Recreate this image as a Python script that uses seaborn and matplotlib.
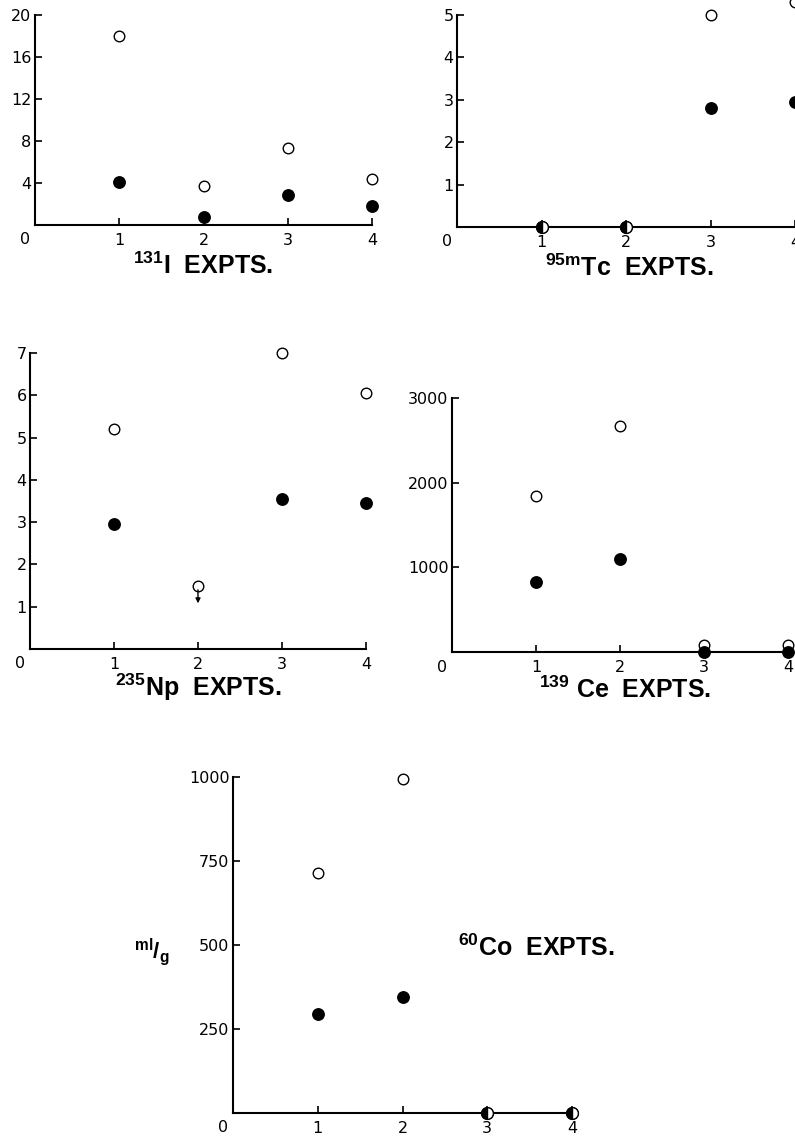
import numpy as np
import pandas as pd
import matplotlib
matplotlib.use("Agg")
import matplotlib.pyplot as plt
import seaborn as sns

# Experiment numbers shared by every panel
expts = [1, 2, 3, 4]

# Distribution ratios: open circles and filled circles for each nuclide
i131_open = [18.0, 3.7, 7.3, 4.4]
i131_filled = [4.1, 0.8, 2.9, 1.8]

tc95m_open = [0.0, 0.0, 5.0, 5.3]
tc95m_filled = [0.0, 0.0, 2.8, 2.95]

np235_open = [5.2, 1.5, 7.0, 6.05]
np235_filled = [2.95, np.nan, 3.55, 3.45]

ce139_open = [1840, 2670, 80, 80]
ce139_filled = [825, 1095, 0, 0]

co60_open = [715, 995, 0, 0]
co60_filled = [295, 345, 0, 0]

# Y tick values per panel
i131_yticks = [4, 8, 12, 16, 20]
tc95m_yticks = [1, 2, 3, 4, 5]
np235_yticks = [1, 2, 3, 4, 5, 6, 7]
ce139_yticks = [1000, 2000, 3000]
co60_yticks = [250, 500, 750, 1000]

sns.set_style("ticks")
plt.rcParams["font.family"] = ["DejaVu Sans"]
plt.rcParams["mathtext.default"] = "regular"
for key in ("text.color", "axes.labelcolor", "xtick.color", "ytick.color",
            "axes.edgecolor"):
    plt.rcParams[key] = "black"

W, H = 795, 1142
fig = plt.figure(figsize=(W / 100, H / 100), dpi=100)


def px_rect(x0, x1, ytop, ybot):
    return [x0 / W, 1 - ybot / H, (x1 - x0) / W, (ybot - ytop) / H]


def panel(rect, opened, filled, yticks):
    ax = fig.add_axes(rect)
    df = pd.DataFrame({"expt": expts, "open": opened, "filled": filled})
    sns.scatterplot(data=df, x="expt", y="open", ax=ax, color="white",
                    edgecolor="black", linewidth=1.0, s=58, clip_on=False,
                    zorder=3)
    sns.scatterplot(data=df, x="expt", y="filled", ax=ax, color="black",
                    edgecolor="black", linewidth=1.0, s=68, clip_on=False,
                    zorder=4)
    o = np.asarray(opened, dtype=float)
    f = np.asarray(filled, dtype=float)
    both = np.isclose(o, f)
    if both.any():
        ax.plot(np.asarray(expts)[both], f[both], ls="none", marker="o",
                ms=8.5, fillstyle="left", markerfacecolor="black",
                markerfacecoloralt="white", markeredgecolor="black",
                markeredgewidth=1.0, clip_on=False, zorder=5)
    ax.set_xlim(0, 4)
    ax.set_ylim(0, yticks[-1])
    ax.set_xticks(expts)
    ax.set_yticks(yticks)
    ax.set_xlabel("")
    ax.set_ylabel("")
    sns.despine(ax=ax)
    for side in ("left", "bottom"):
        ax.spines[side].set_linewidth(1.5)
        ax.spines[side].set_color("black")
    ax.tick_params(direction="in", length=5, width=1.2, labelsize=11.5,
                   colors="black")
    ax.tick_params(axis="x", pad=5.5)
    ax.tick_params(axis="y", pad=2.5)
    ax.annotate("0", xy=(0, 0), xycoords="data", xytext=(-10, -15),
                textcoords="offset pixels", ha="center", va="center",
                fontsize=11.5, color="black")
    ax.set_facecolor("none")
    return ax


ax_i = panel(px_rect(35, 372, 15, 225), i131_open, i131_filled, i131_yticks)
ax_tc = panel(px_rect(457, 795, 15, 227), tc95m_open, tc95m_filled, tc95m_yticks)
ax_np = panel(px_rect(30, 366, 353, 649), np235_open, np235_filled, np235_yticks)
ax_ce = panel(px_rect(452, 788, 398, 652), ce139_open, ce139_filled, ce139_yticks)
ax_co = panel(px_rect(233, 572, 777, 1113), co60_open, co60_filled, co60_yticks)

# Upper-limit arrow on the open point of experiment 2 (235Np)
ax_np.annotate("", xy=(2, np235_open[1] - 0.42), xytext=(2, np235_open[1] - 0.1),
               arrowprops=dict(arrowstyle="-|>", lw=1.0, color="black",
                               mutation_scale=7, shrinkA=0, shrinkB=0))

title_kw = dict(fontsize=18, fontweight="bold", family="Liberation Sans",
                ha="center", va="center", color="black")


def ftext(x, y, s, **kw):
    fig.text(x / W, 1 - y / H, s, **kw)


ftext(203, 266, r"$^{131}$I  EXPTS.", **title_kw)
ftext(629, 268, r"$^{95m}$Tc  EXPTS.", **title_kw)
ftext(198, 687, r"$^{235}$Np  EXPTS.", **title_kw)
ftext(625, 690, r"$^{139}$ Ce  EXPTS.", **title_kw)
ftext(536, 948, r"$^{60}$Co  EXPTS.", **title_kw)
ftext(152, 952, r"$^{ml}/_{g}$", fontsize=16, fontweight="bold",
      family="Liberation Sans", ha="center", va="center", color="black")

fig.savefig("out.png", dpi=100, facecolor="white")
